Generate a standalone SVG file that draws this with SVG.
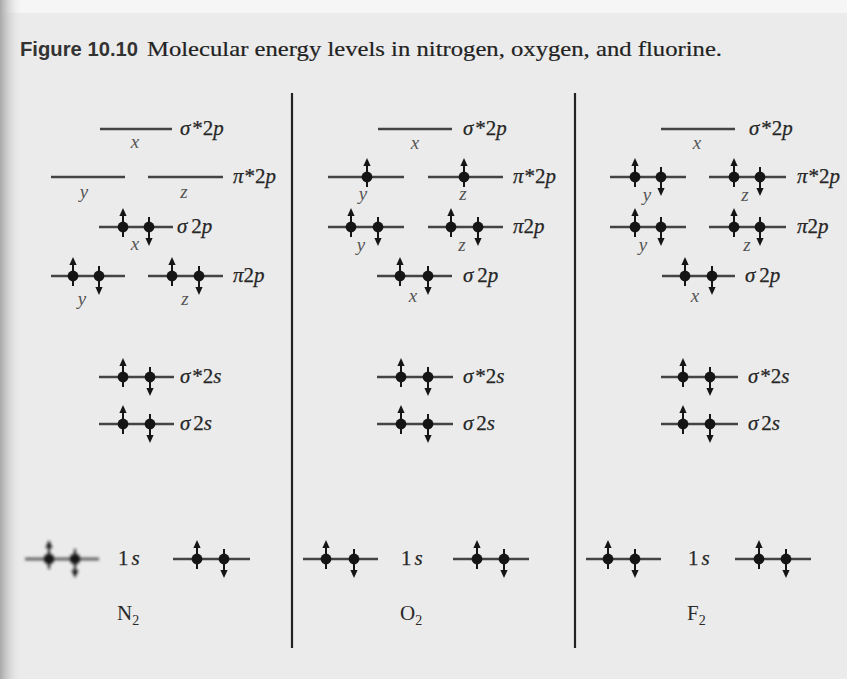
<svg xmlns="http://www.w3.org/2000/svg" width="847" height="679" viewBox="0 0 847 679">
<style>
.lv{stroke:#444;stroke-width:2.4;fill:none}
.sep{stroke:#222;stroke-width:2.2;fill:none}
.lab{font-family:"Liberation Serif","Times New Roman",serif;font-size:21px;fill:#262626;stroke:#262626;stroke-width:0.25}
.it{font-style:italic}
.ax{font-family:"Liberation Serif","Times New Roman",serif;font-size:19px;font-style:italic;fill:#555;text-anchor:middle}
.mol{font-family:"Liberation Serif","Times New Roman",serif;font-size:21px;fill:#2a2a2a}
.el{fill:#151515;stroke:#151515}
</style>
<defs>
<linearGradient id="shade" x1="0" y1="0" x2="1" y2="0">
<stop offset="0" stop-color="#a8a8a8"/>
<stop offset="1" stop-color="#ebebeb" stop-opacity="0"/>
</linearGradient>
<filter id="blur" x="-20%" y="-50%" width="140%" height="200%"><feGaussianBlur stdDeviation="1.4"/></filter>
<g id="up" class="el"><circle r="5.4" stroke="none"/><line x1="0" y1="-12" x2="0" y2="10" stroke-width="2"/><polygon points="0,-19 -3.6,-11 3.6,-11" stroke="none"/></g>
<g id="dn" class="el"><circle r="5.4" stroke="none"/><line x1="0" y1="-10" x2="0" y2="12" stroke-width="2"/><polygon points="0,19 -3.6,11 3.6,11" stroke="none"/></g>
</defs>

<rect width="847" height="679" fill="#ebebeb"/>
<rect width="847" height="13" fill="#f6f6f6"/>
<rect width="22" height="679" fill="url(#shade)"/>

<g id="title">
<text x="20" y="56" font-family="'Liberation Sans',Arial,sans-serif" font-weight="bold" font-size="20" fill="#333" textLength="118" lengthAdjust="spacingAndGlyphs">Figure 10.10</text>
<text x="147" y="56" font-family="'Liberation Serif','Times New Roman',serif" font-size="22" fill="#222" stroke="#222" stroke-width="0.2" textLength="575" lengthAdjust="spacingAndGlyphs">Molecular energy levels in nitrogen, oxygen, and fluorine.</text>
</g>

<g id="separators">
<line class="sep" x1="292" y1="93" x2="292" y2="648"/>
<line class="sep" x1="575" y1="93" x2="575" y2="648"/>
</g>

<!-- N2 -->
<g id="n2-sigma-star-2p">
<line class="lv" x1="100" y1="129" x2="172" y2="129"/>
<text class="lab" x="180" y="135"><tspan class="it">σ</tspan><tspan dx="2">*2</tspan><tspan class="it">p</tspan></text>
<text class="ax" x="135" y="148">x</text>
</g>
<g id="n2-pi-star-2p">
<line class="lv" x1="51" y1="177" x2="125" y2="177"/>
<line class="lv" x1="148" y1="177" x2="223" y2="177"/>
<text class="lab" x="233" y="183"><tspan class="it">π</tspan><tspan dx="1">*2</tspan><tspan class="it">p</tspan></text>
<text class="ax" x="84" y="198">y</text>
<text class="ax" x="184" y="198">z</text>
</g>
<g id="n2-sigma-2p">
<line class="lv" x1="99" y1="227" x2="173" y2="227"/>
<use href="#up" x="123" y="227"/><use href="#dn" x="149" y="227"/>
<text class="lab" x="177" y="233"><tspan class="it">σ</tspan><tspan dx="4">2</tspan><tspan class="it">p</tspan></text>
<text class="ax" x="135" y="250">x</text>
</g>
<g id="n2-pi-2p">
<line class="lv" x1="51" y1="276" x2="125" y2="276"/>
<line class="lv" x1="148" y1="276" x2="223" y2="276"/>
<use href="#up" x="73" y="276"/><use href="#dn" x="99" y="276"/>
<use href="#up" x="172" y="276"/><use href="#dn" x="199" y="276"/>
<text class="lab" x="233" y="282"><tspan class="it">π</tspan>2<tspan class="it">p</tspan></text>
<text class="ax" x="82" y="305">y</text>
<text class="ax" x="185" y="305">z</text>
</g>
<g id="n2-sigma-star-2s">
<line class="lv" x1="99" y1="377" x2="174" y2="377"/>
<use href="#up" x="123" y="377"/><use href="#dn" x="150" y="377"/>
<text class="lab" x="180" y="383"><tspan class="it">σ</tspan><tspan dx="2">*2</tspan><tspan class="it">s</tspan></text>
</g>
<g id="n2-sigma-2s">
<line class="lv" x1="99" y1="424" x2="174" y2="424"/>
<use href="#up" x="123" y="424"/><use href="#dn" x="150" y="424"/>
<text class="lab" x="180" y="430"><tspan class="it">σ</tspan><tspan dx="3">2</tspan><tspan class="it">s</tspan></text>
</g>
<g id="n2-1s">
<g filter="url(#blur)">
<line class="lv" x1="25" y1="559" x2="99" y2="559"/>
<use href="#up" x="49" y="559"/><use href="#dn" x="75" y="559"/>
</g>
<text class="lab" x="118" y="565">1<tspan class="it" dx="3">s</tspan></text>
<line class="lv" x1="173" y1="559" x2="250" y2="559"/>
<use href="#up" x="197" y="559"/><use href="#dn" x="224" y="559"/>
</g>
<g id="n2-label"><text class="mol" x="117" y="620">N<tspan font-size="14" dy="5">2</tspan></text></g>

<!-- O2 -->
<g id="o2-sigma-star-2p">
<line class="lv" x1="378" y1="129" x2="452" y2="129"/>
<text class="lab" x="463" y="135"><tspan class="it">σ</tspan><tspan dx="2">*2</tspan><tspan class="it">p</tspan></text>
<text class="ax" x="415" y="149">x</text>
</g>
<g id="o2-pi-star-2p">
<line class="lv" x1="328" y1="177" x2="404" y2="177"/>
<line class="lv" x1="428" y1="177" x2="503" y2="177"/>
<use href="#up" x="367" y="177"/><use href="#up" x="464" y="177"/>
<text class="lab" x="513" y="183"><tspan class="it">π</tspan><tspan dx="1">*2</tspan><tspan class="it">p</tspan></text>
<text class="ax" x="363" y="200">y</text>
<text class="ax" x="463" y="200">z</text>
</g>
<g id="o2-pi-2p">
<line class="lv" x1="328" y1="227" x2="404" y2="227"/>
<line class="lv" x1="428" y1="227" x2="503" y2="227"/>
<use href="#up" x="351" y="227"/><use href="#dn" x="378" y="227"/>
<use href="#up" x="451" y="227"/><use href="#dn" x="478" y="227"/>
<text class="lab" x="513" y="233"><tspan class="it">π</tspan>2<tspan class="it">p</tspan></text>
<text class="ax" x="361" y="251">y</text>
<text class="ax" x="462" y="251">z</text>
</g>
<g id="o2-sigma-2p">
<line class="lv" x1="377" y1="276" x2="452" y2="276"/>
<use href="#up" x="400" y="276"/><use href="#dn" x="428" y="276"/>
<text class="lab" x="463" y="282"><tspan class="it">σ</tspan><tspan dx="4">2</tspan><tspan class="it">p</tspan></text>
<text class="ax" x="413" y="302">x</text>
</g>
<g id="o2-sigma-star-2s">
<line class="lv" x1="377" y1="377" x2="453" y2="377"/>
<use href="#up" x="401" y="377"/><use href="#dn" x="428" y="377"/>
<text class="lab" x="463" y="383"><tspan class="it">σ</tspan><tspan dx="2">*2</tspan><tspan class="it">s</tspan></text>
</g>
<g id="o2-sigma-2s">
<line class="lv" x1="377" y1="424" x2="453" y2="424"/>
<use href="#up" x="401" y="424"/><use href="#dn" x="428" y="424"/>
<text class="lab" x="463" y="430"><tspan class="it">σ</tspan><tspan dx="3">2</tspan><tspan class="it">s</tspan></text>
</g>
<g id="o2-1s">
<line class="lv" x1="303" y1="559" x2="378" y2="559"/>
<use href="#up" x="326" y="559"/><use href="#dn" x="354" y="559"/>
<text class="lab" x="401" y="565">1<tspan class="it" dx="3">s</tspan></text>
<line class="lv" x1="453" y1="559" x2="529" y2="559"/>
<use href="#up" x="477" y="559"/><use href="#dn" x="504" y="559"/>
</g>
<g id="o2-label"><text class="mol" x="400" y="620">O<tspan font-size="14" dy="5">2</tspan></text></g>

<!-- F2 -->
<g id="f2-sigma-star-2p">
<line class="lv" x1="661" y1="129" x2="735" y2="129"/>
<text class="lab" x="749" y="135"><tspan class="it">σ</tspan><tspan dx="2">*2</tspan><tspan class="it">p</tspan></text>
<text class="ax" x="697" y="149">x</text>
</g>
<g id="f2-pi-star-2p">
<line class="lv" x1="610" y1="177" x2="686" y2="177"/>
<line class="lv" x1="709" y1="177" x2="786" y2="177"/>
<use href="#up" x="635" y="177"/><use href="#dn" x="661" y="177"/>
<use href="#up" x="734" y="177"/><use href="#dn" x="760" y="177"/>
<text class="lab" x="797" y="183"><tspan class="it">π</tspan><tspan dx="1">*2</tspan><tspan class="it">p</tspan></text>
<text class="ax" x="647" y="201">y</text>
<text class="ax" x="745" y="201">z</text>
</g>
<g id="f2-pi-2p">
<line class="lv" x1="610" y1="227" x2="686" y2="227"/>
<line class="lv" x1="709" y1="227" x2="786" y2="227"/>
<use href="#up" x="635" y="227"/><use href="#dn" x="661" y="227"/>
<use href="#up" x="734" y="227"/><use href="#dn" x="760" y="227"/>
<text class="lab" x="797" y="233"><tspan class="it">π</tspan>2<tspan class="it">p</tspan></text>
<text class="ax" x="643" y="251">y</text>
<text class="ax" x="747" y="251">z</text>
</g>
<g id="f2-sigma-2p">
<line class="lv" x1="662" y1="276" x2="735" y2="276"/>
<use href="#up" x="685" y="276"/><use href="#dn" x="712" y="276"/>
<text class="lab" x="745" y="282"><tspan class="it">σ</tspan><tspan dx="4">2</tspan><tspan class="it">p</tspan></text>
<text class="ax" x="695" y="302">x</text>
</g>
<g id="f2-sigma-star-2s">
<line class="lv" x1="661" y1="377" x2="738" y2="377"/>
<use href="#up" x="683" y="377"/><use href="#dn" x="710" y="377"/>
<text class="lab" x="748" y="383"><tspan class="it">σ</tspan><tspan dx="2">*2</tspan><tspan class="it">s</tspan></text>
</g>
<g id="f2-sigma-2s">
<line class="lv" x1="661" y1="424" x2="738" y2="424"/>
<use href="#up" x="683" y="424"/><use href="#dn" x="710" y="424"/>
<text class="lab" x="748" y="430"><tspan class="it">σ</tspan><tspan dx="3">2</tspan><tspan class="it">s</tspan></text>
</g>
<g id="f2-1s">
<line class="lv" x1="586" y1="559" x2="661" y2="559"/>
<use href="#up" x="608" y="559"/><use href="#dn" x="635" y="559"/>
<text class="lab" x="688" y="565">1<tspan class="it" dx="3">s</tspan></text>
<line class="lv" x1="735" y1="559" x2="811" y2="559"/>
<use href="#up" x="759" y="559"/><use href="#dn" x="786" y="559"/>
</g>
<g id="f2-label"><text class="mol" x="687" y="620">F<tspan font-size="14" dy="5">2</tspan></text></g>
</svg>
